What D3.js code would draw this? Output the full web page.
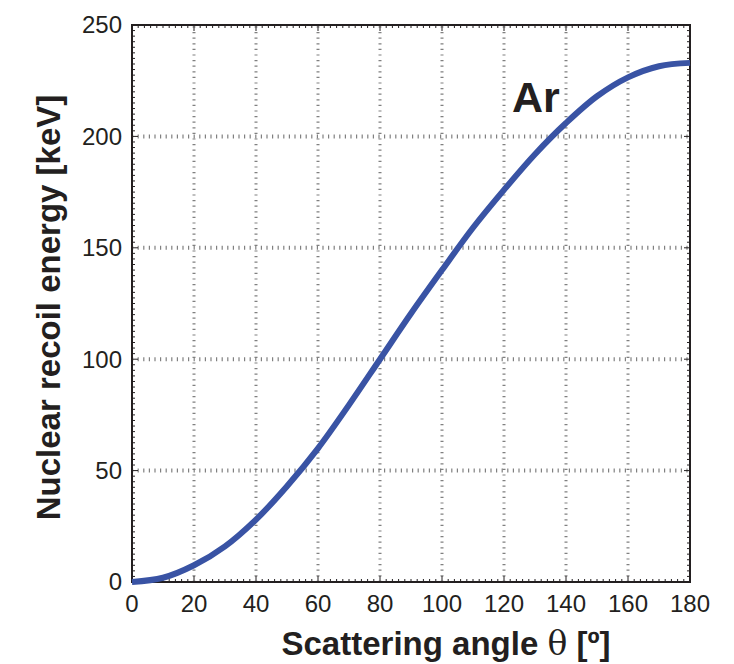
<!DOCTYPE html>
<html lang="en">
<head>
    <meta charset="utf-8">
    <script src="https://cdn.jsdelivr.net/npm/d3@7"></script>
    <style>
        body { margin: 0; background: #fff; }
        text { font-family: "Liberation Sans", Arial, Helvetica, sans-serif; fill: #231f20; }
    </style>
</head>
<body>
<div id="chart"></div>
<script>
    // values (recoil energy of Ar vs scattering angle)
    var angles   = [0, 10, 20, 30, 40, 50, 60, 70, 80, 90, 100, 110, 120, 130, 140, 150, 160, 170, 180]
    var energies = [0, 1.9, 7.5, 16, 28, 43, 60, 79.5, 100, 120.5, 140, 159, 176, 192, 206, 218, 226.5, 231.5, 233]
    var xTicks = [0, 20, 40, 60, 80, 100, 120, 140, 160, 180]
    var yTicks = [0, 50, 100, 150, 200, 250]
    var seriesLabel = "Ar"

    var width = 734
        height = 664
        margin = {left: 132, right: 44, top: 25, bottom: 82}

    var svg = d3.select("#chart")
        .append("svg")
            .attr("width", width)
            .attr("height", height)

    var x = d3.scaleLinear().domain([0, 180]).range([margin.left, width - margin.right])
    var y = d3.scaleLinear().domain([0, 250]).range([height - margin.bottom, margin.top])

    var x0 = x.range()[0], x1 = x.range()[1]
    var y0 = y.range()[0], y1 = y.range()[1]

    // dotted grid
    var grid = svg.append("g").attr("stroke", "#808080").attr("stroke-width", 3)
    grid.selectAll(".vg")
        .data(xTicks.slice(1, -1))
        .enter().append("line")
            .attr("x1", d => x(d)).attr("x2", d => x(d))
            .attr("y1", y0).attr("y2", y1)
            .attr("stroke-dasharray", "1.2,4.4")
    grid.selectAll(".hg")
        .data(yTicks.slice(1, -1))
        .enter().append("line")
            .attr("x1", x0).attr("x2", x1)
            .attr("y1", d => y(d)).attr("y2", d => y(d))
            .attr("stroke-width", 4)
            .attr("stroke-dasharray", "1.2,4.4")

    // minor + major ticks on all four sides, pointing inward
    var xMinor = d3.range(0, 181, 2)
    var yMinor = d3.range(0, 251, 2.5)
    var ticks = svg.append("g").attr("stroke", "#231f20").attr("stroke-width", 1)
    function tickLen(v, step) { return v % step === 0 ? 6 : 3 }
    xMinor.forEach(function(v) {
        var L = tickLen(v, 20)
        ticks.append("line").attr("x1", x(v)).attr("x2", x(v)).attr("y1", y0).attr("y2", y0 - L)
        ticks.append("line").attr("x1", x(v)).attr("x2", x(v)).attr("y1", y1).attr("y2", y1 + L)
    })
    yMinor.forEach(function(v) {
        var L = tickLen(v, 50)
        ticks.append("line").attr("y1", y(v)).attr("y2", y(v)).attr("x1", x0).attr("x2", x0 + L)
        ticks.append("line").attr("y1", y(v)).attr("y2", y(v)).attr("x1", x1).attr("x2", x1 - L)
    })

    // frame
    svg.append("rect")
        .attr("x", x0).attr("y", y1)
        .attr("width", x1 - x0).attr("height", y0 - y1)
        .attr("fill", "none")
        .attr("stroke", "#231f20")
        .attr("stroke-width", 2)

    // tick labels
    svg.append("g").selectAll("text")
        .data(xTicks)
        .enter().append("text")
            .attr("x", d => x(d))
            .attr("y", y0 + 30)
            .attr("text-anchor", "middle")
            .style("font-size", "24px")
            .text(d => d)
    svg.append("g").selectAll("text")
        .data(yTicks)
        .enter().append("text")
            .attr("x", x0 - 10)
            .attr("y", d => y(d))
            .attr("dy", "0.35em")
            .attr("text-anchor", "end")
            .style("font-size", "24px")
            .text(d => d)

    // curve
    var line = d3.line()
        .x(function(d, i) { return x(angles[i]) })
        .y(function(d) { return y(d) })
        .curve(d3.curveCatmullRom.alpha(0.5))
    svg.append("path")
        .attr("d", line(energies))
        .attr("fill", "none")
        .attr("stroke", "#3953a4")
        .attr("stroke-width", 6)
        .attr("stroke-linecap", "butt")

    // series label
    svg.append("text")
        .attr("x", x(130.3))
        .attr("y", y(211))
        .attr("text-anchor", "middle")
        .style("font-size", "43px")
        .style("font-weight", "bold")
        .text(seriesLabel)

    // axis titles
    var xt = svg.append("text")
        .attr("x", 446)
        .attr("y", 655)
        .attr("text-anchor", "middle")
        .style("font-size", "33px")
        .style("font-weight", "bold")
    xt.append("tspan").text("Scattering angle ")
    xt.append("tspan").style("font-weight", "normal").style("font-family", "'DejaVu Serif', serif").text("θ")
    xt.append("tspan").text(" [º]")

    svg.append("text")
        .attr("transform", "translate(60," + ((y0 + y1) / 2 + 4) + ") rotate(-90)")
        .attr("text-anchor", "middle")
        .style("font-size", "33px")
        .style("font-weight", "bold")
        .text("Nuclear recoil energy [keV]")
</script>
</body>
</html>
